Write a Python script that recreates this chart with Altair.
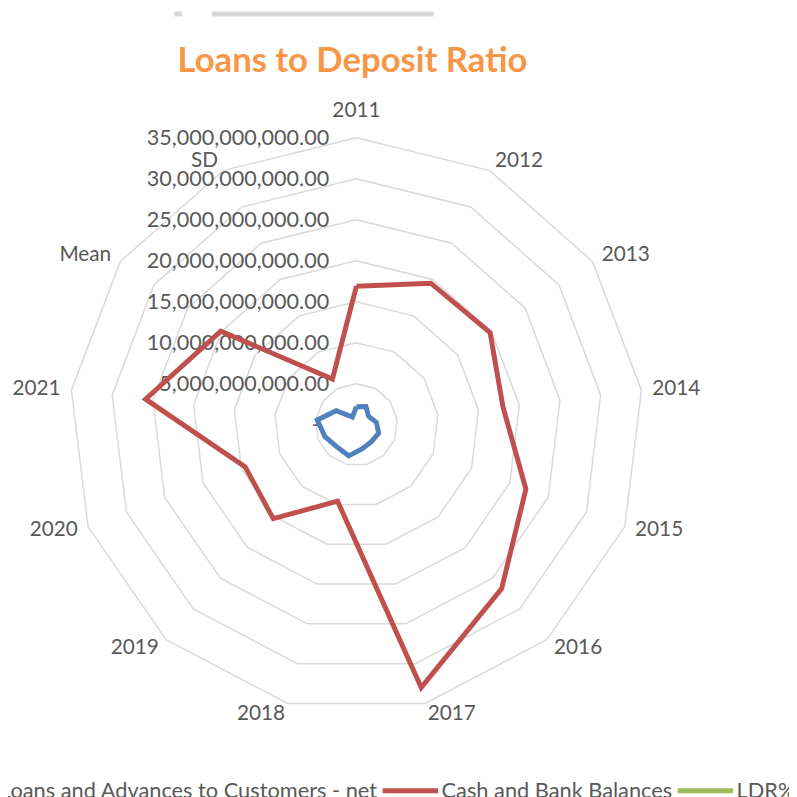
import altair as alt
import pandas as pd

# ---------------- data ----------------
categories = ["2011", "2012", "2013", "2014", "2015", "2016", "2017",
              "2018", "2019", "2020", "2021", "Mean", "SD"]

loans_net = [2.2e9, 2.5e9, 1.8e9, 2.45e9, 2.9e9, 2.75e9, 3.0e9,
             3.9e9, 3.6e9, 4.1e9, 4.8e9, 3.0e9, 1.05e9]
cash_bank = [16.9e9, 19.5e9, 19.8e9, 18.0e9, 22.1e9, 26.7e9, 33.0e9,
             9.6e9, 15.3e9, 14.5e9, 25.9e9, 20.1e9, 6.3e9]
ldr_pct = [0.0, 0.0, 0.0, 0.0, 0.0, 0.0, 0.0,
           0.0, 0.0, 0.0, 0.0, 0.0, 0.0]

series_names = ["Loans and Advances to Customers - net",
                "Cash and Bank Balances", "LDR%"]
series_colors = ["#4F81BD", "#C0504D", "#9BBB59"]

ring_values = [0, 5e9, 10e9, 15e9, 20e9, 25e9, 30e9, 35e9]
tick_labels = ["-", "5,000,000,000.00", "10,000,000,000.00",
               "15,000,000,000.00", "20,000,000,000.00",
               "25,000,000,000.00", "30,000,000,000.00",
               "35,000,000,000.00"]

title_text = "Loans to Deposit Ratio"

# ---------------- tables ----------------
n = len(categories)
series_rows = []
for name, vals in zip(series_names, [loans_net, cash_bank, ldr_pct]):
    for j in range(n + 1):
        i = j % n
        series_rows.append({"series": name, "idx": j, "cat": categories[i],
                            "value": vals[i]})
series_df = pd.DataFrame(series_rows)

ring_rows = []
for rv in ring_values[1:]:
    for j in range(n + 1):
        ring_rows.append({"ring": rv, "idx": j % n, "ord": j, "value": rv})
ring_df = pd.DataFrame(ring_rows)

cat_df = pd.DataFrame({"cat": categories, "idx": list(range(n))})
tick_df = pd.DataFrame({"value": ring_values, "label": tick_labels})

# ---------------- geometry ----------------
W = H = 789
R_PX = 290.0
K = R_PX / 35.0          # pixels per billion
CX, CY = 352.0, 417.0    # centre inside the view
x_dom = [-CX / K, (W - CX) / K]
y_dom = [-(H - CY) / K, CY / K]

xs = alt.Scale(domain=x_dom, nice=False, zero=False)
ys = alt.Scale(domain=y_dom, nice=False, zero=False)
ANG = f"datum.idx * 2 * PI / {n}"


def xy(chart, xf="px", yf="py"):
    return chart.encode(
        x=alt.X(f"{xf}:Q", scale=xs, axis=None),
        y=alt.Y(f"{yf}:Q", scale=ys, axis=None),
    )


GRID = "#D9D9D9"
TXT = "#595959"
FONT = "Lato"

rings = xy(
    alt.Chart(ring_df)
    .transform_calculate(a=ANG)
    .transform_calculate(px="datum.value / 1e9 * sin(datum.a)",
                         py="datum.value / 1e9 * cos(datum.a)")
    .mark_line(color=GRID, strokeWidth=1.5)
).encode(detail="ring:N", order="ord:Q")

tick_text = xy(
    alt.Chart(tick_df)
    .transform_calculate(px=f"(datum.value == 0 ? -37 : -27.5) / {K}",
                         py="datum.value / 1e9")
    .mark_text(align="right", baseline="middle", font=FONT, fontSize=21.8,
               color=TXT)
).encode(text="label:N")

LABEL_R = 301.0 / K


def cat_layer(filter_expr, **mark_kw):
    return xy(
        alt.Chart(cat_df)
        .transform_calculate(a=ANG)
        .transform_filter(filter_expr)
        .transform_calculate(px=f"{LABEL_R} * sin(datum.a)",
                             py=f"{LABEL_R} * cos(datum.a)")
        .mark_text(font=FONT, fontSize=21, color=TXT, **mark_kw)
    ).encode(text="cat:N")


cat_right_side = cat_layer("sin(datum.a) > 0.01", align="left",
                           baseline="middle")
cat_left_side = cat_layer("sin(datum.a) < -0.01", align="right",
                          baseline="middle")
cat_top = cat_layer("abs(sin(datum.a)) <= 0.01", align="center",
                    baseline="alphabetic", dy=-10)

lines = xy(
    alt.Chart(series_df)
    .transform_calculate(a=ANG)
    .transform_calculate(px="datum.value / 1e9 * sin(datum.a)",
                         py="datum.value / 1e9 * cos(datum.a)")
    .mark_line(strokeWidth=5)
).encode(
    color=alt.Color(
        "series:N",
        scale=alt.Scale(domain=series_names, range=series_colors),
        legend=alt.Legend(
            title=None, orient="none", direction="horizontal",
            legendX=-70, legendY=756, symbolType="stroke",
            symbolStrokeWidth=5, symbolSize=56 * 56, labelFont=FONT,
            labelFontSize=22, labelColor=TXT, labelOffset=1,
            columnPadding=-6, labelLimit=1000, padding=0,
        ),
    ),
    order="idx:Q",
)

title = alt.Chart(pd.DataFrame({"t": [title_text]})).mark_text(
    align="center", baseline="alphabetic", font=FONT, fontSize=35,
    fontWeight="bold", color="#F79646"
).encode(text="t:N", x=alt.value(348), y=alt.value(61))

bar_df = pd.DataFrame({"a": [0]})
top_bar1 = alt.Chart(bar_df).mark_rule(color="#D8D8D8", strokeWidth=5).encode(
    x=alt.value(206), x2=alt.value(430), y=alt.value(2))
top_bar2 = alt.Chart(bar_df).mark_rule(color="#D8D8D8", strokeWidth=5).encode(
    x=alt.value(168), x2=alt.value(176), y=alt.value(2))

chart = alt.layer(
    rings, tick_text, cat_right_side, cat_left_side, cat_top, lines, title,
    top_bar1, top_bar2
).properties(
    width=W, height=H, padding=0,
    autosize=alt.AutoSizeParams(type="none"),
).configure(
    background="white", view=alt.ViewConfig(stroke=None, strokeWidth=0)
)

chart.save("out.html", embed_options={"renderer": "svg", "actions": False})
